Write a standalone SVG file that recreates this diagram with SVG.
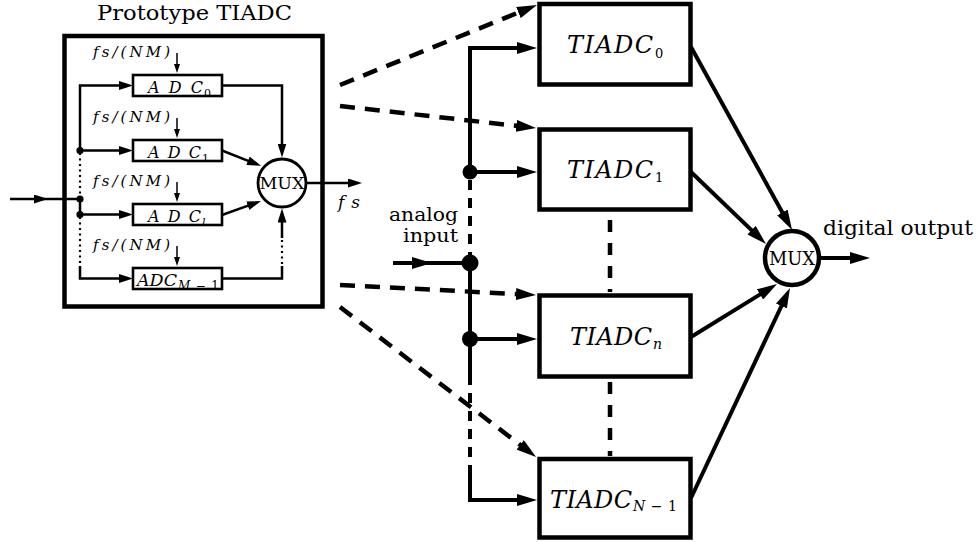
<svg xmlns="http://www.w3.org/2000/svg" width="979" height="542" viewBox="0 0 979 542">
  <style>
    text { font-family: "DejaVu Serif", "Liberation Serif", serif; fill: #000; }
    .it { font-style: italic; }
    .box { fill: #fff; stroke: #000; stroke-width: 4.5; }
    .sbox { fill: #fff; stroke: #000; stroke-width: 2.6; }
    .w { fill: none; stroke: #000; stroke-width: 2.5; }
    .clk { fill: none; stroke: #000; stroke-width: 1.5; }
    .dot1 { fill: none; stroke: #000; stroke-width: 2.2; stroke-dasharray: 2 3.5; }
    .W { fill: none; stroke: #000; stroke-width: 4; }
    .dash { fill: none; stroke: #000; stroke-width: 4.5; stroke-dasharray: 15 10; }
    .vdash { fill: none; stroke: #000; stroke-width: 4.5; stroke-dasharray: 12 11; }
    .bdash { fill: none; stroke: #000; stroke-width: 4; stroke-dasharray: 10 8; }
  </style>
  <defs>
    <marker id="ahS" markerUnits="userSpaceOnUse" markerWidth="14" markerHeight="9" refX="7" refY="4.5" orient="auto">
      <path d="M0,0 L14,4.5 L0,9 z" fill="#000"/>
    </marker>
    <marker id="ahC" markerUnits="userSpaceOnUse" markerWidth="9" markerHeight="6" refX="5" refY="3" orient="auto">
      <path d="M0,0 L9,3 L0,6 z" fill="#000"/>
    </marker>
    <marker id="ahL" markerUnits="userSpaceOnUse" markerWidth="20" markerHeight="12" refX="10" refY="6" orient="auto">
      <path d="M0,0 L20,6 L0,12 z" fill="#000"/>
    </marker>
  </defs>

  <!-- prototype time-interleaved converter -->
  <g id="prototype">
    <text x="97" y="20" font-size="21" textLength="195" lengthAdjust="spacingAndGlyphs">Prototype TIADC</text>
    <rect class="box" x="64.5" y="36" width="258" height="270.5"/>
  </g>

  <g id="adc0">
    <rect class="sbox" x="133" y="75" width="89" height="21"/>
    <text class="it" x="148" y="93" font-size="16" textLength="55" lengthAdjust="spacing">ADC</text>
    <text x="204" y="96.5" font-size="11">0</text>
    <text class="it" x="93" y="57" font-size="15" textLength="77" lengthAdjust="spacing">fs/(NM)</text>
  </g>
  <g id="adc1">
    <rect class="sbox" x="133" y="140" width="89" height="21"/>
    <text class="it" x="148" y="158" font-size="16" textLength="53" lengthAdjust="spacing">ADC</text>
    <text x="202" y="161.5" font-size="11">1</text>
    <text class="it" x="93" y="122" font-size="15" textLength="77" lengthAdjust="spacing">fs/(NM)</text>
  </g>
  <g id="adcl">
    <rect class="sbox" x="133" y="204" width="89" height="21"/>
    <text class="it" x="148" y="222" font-size="16" textLength="53" lengthAdjust="spacing">ADC</text>
    <text class="it" x="202" y="225.5" font-size="11">l</text>
    <text class="it" x="93" y="186" font-size="15" textLength="77" lengthAdjust="spacing">fs/(NM)</text>
  </g>
  <g id="adcM1">
    <rect class="sbox" x="133" y="268" width="89" height="21"/>
    <text class="it" x="137" y="286" font-size="16" textLength="40" lengthAdjust="spacingAndGlyphs">ADC</text>
    <text x="178" y="289.5" font-size="12" textLength="41" lengthAdjust="spacing"><tspan font-style="italic">M</tspan> − 1</text>
    <text class="it" x="93" y="250" font-size="15" textLength="77" lengthAdjust="spacing">fs/(NM)</text>
  </g>
  <g id="mux-inner">
    <circle cx="282" cy="183" r="24" fill="#fff" stroke="#000" stroke-width="2.8"/>
    <text x="282" y="189" font-size="17.5" text-anchor="middle" textLength="45" lengthAdjust="spacingAndGlyphs">MUX</text>
  </g>
  <text class="it" x="338" y="208" font-size="17" textLength="22" lengthAdjust="spacing">fs</text>

  <!-- interleaved converter bank -->
  <g id="tiadc0">
    <rect class="box" x="539.5" y="4" width="151" height="80.5"/>
    <text class="it" x="567" y="53" font-size="24" textLength="86" lengthAdjust="spacing">TIADC</text>
    <text x="655" y="57.5" font-size="13">0</text>
  </g>
  <g id="tiadc1">
    <rect class="box" x="539.5" y="129.5" width="151" height="80"/>
    <text class="it" x="567" y="178" font-size="24" textLength="86" lengthAdjust="spacing">TIADC</text>
    <text x="655" y="182" font-size="13">1</text>
  </g>
  <g id="tiadcn">
    <rect class="box" x="539.5" y="295.5" width="151" height="81"/>
    <text class="it" x="570" y="345" font-size="24" textLength="82" lengthAdjust="spacing">TIADC</text>
    <text class="it" x="653" y="348.5" font-size="14">n</text>
  </g>
  <g id="tiadcN1">
    <rect class="box" x="539.5" y="459" width="151" height="78.5"/>
    <text class="it" x="550" y="507.5" font-size="24" textLength="82" lengthAdjust="spacing">TIADC</text>
    <text x="633" y="510.5" font-size="14" textLength="44" lengthAdjust="spacing"><tspan font-style="italic">N</tspan> − 1</text>
  </g>
  <g id="mux">
    <circle cx="792" cy="258" r="27" fill="#fff" stroke="#000" stroke-width="4.5"/>
    <text x="792" y="265" font-size="18.5" text-anchor="middle" textLength="46" lengthAdjust="spacingAndGlyphs">MUX</text>
  </g>
  <g id="analog-input">
    <text x="458" y="221" font-size="19" text-anchor="end" textLength="69" lengthAdjust="spacingAndGlyphs">analog</text>
    <text x="458" y="242" font-size="19" text-anchor="end" textLength="55" lengthAdjust="spacingAndGlyphs">input</text>
  </g>
  <g id="digital-output">
    <text x="823" y="235" font-size="21" textLength="150" lengthAdjust="spacingAndGlyphs">digital output</text>
  </g>

  <g id="connectors">
    <!-- prototype: input and distribution bus -->
    <polyline class="w" points="10,199 41,199 80,199" marker-mid="url(#ahS)"/>
    <polyline class="w" points="80,150.5 80,85.5 126,85.5" marker-end="url(#ahS)"/>
    <line class="w" x1="80" y1="150.5" x2="126" y2="150.5" marker-end="url(#ahS)"/>
    <line class="w" x1="80" y1="199" x2="80" y2="214.5"/>
    <line class="w" x1="80" y1="214.5" x2="126" y2="214.5" marker-end="url(#ahS)"/>
    <polyline class="w" points="80,266 80,278.5 126,278.5" marker-end="url(#ahS)"/>
    <line class="dot1" x1="80" y1="153" x2="80" y2="197"/>
    <line class="dot1" x1="80" y1="217" x2="80" y2="266"/>
    <circle cx="80" cy="150.5" r="3.6"/>
    <circle cx="80" cy="199" r="3.6"/>
    <circle cx="80" cy="214.5" r="3.6"/>
    <!-- sampling clocks -->
    <line class="clk" x1="177" y1="53" x2="177" y2="69" marker-end="url(#ahC)"/>
    <line class="clk" x1="177" y1="118" x2="177" y2="134" marker-end="url(#ahC)"/>
    <line class="clk" x1="177" y1="182" x2="177" y2="198" marker-end="url(#ahC)"/>
    <line class="clk" x1="177" y1="246" x2="177" y2="262" marker-end="url(#ahC)"/>
    <!-- sub-converter outputs to the multiplexer -->
    <polyline class="w" points="222,85.5 282,85.5 282,150.5" marker-end="url(#ahS)"/>
    <line class="w" x1="222" y1="150.5" x2="254.5" y2="163.3" marker-end="url(#ahS)"/>
    <line class="w" x1="222" y1="215" x2="254.4" y2="203.4" marker-end="url(#ahS)"/>
    <polyline class="w" points="222,278.5 282,278.5 282,266"/>
    <line class="dot1" x1="282" y1="264" x2="282" y2="238"/>
    <line class="w" x1="282" y1="238" x2="282" y2="215.5" marker-end="url(#ahS)"/>
    <line class="w" x1="306" y1="183" x2="355" y2="183" marker-end="url(#ahS)"/>

    <!-- prototype replicated into the bank -->
    <line class="dash" x1="340" y1="85" x2="527.7" y2="8.8" marker-end="url(#ahL)"/>
    <line class="dash" x1="340" y1="106" x2="526.1" y2="126.9" marker-end="url(#ahL)"/>
    <line class="dash" x1="340" y1="285" x2="526" y2="294.5" marker-end="url(#ahL)"/>
    <line class="dash" x1="340" y1="307" x2="528.1" y2="450.9" marker-end="url(#ahL)"/>

    <!-- analog input bus -->
    <polyline class="W" points="393,263 422,263 470,263" marker-mid="url(#ahL)"/>
    <polyline class="W" points="470,172 470,48 527,48" marker-end="url(#ahL)"/>
    <line class="W" x1="470" y1="172" x2="527" y2="172" marker-end="url(#ahL)"/>
    <line class="bdash" x1="470" y1="180" x2="470" y2="258"/>
    <line class="W" x1="470" y1="263" x2="470" y2="385"/>
    <line class="W" x1="470" y1="339" x2="527" y2="339" marker-end="url(#ahL)"/>
    <line class="bdash" x1="470" y1="393" x2="470" y2="465"/>
    <polyline class="W" points="470,465 470,500 527,500" marker-end="url(#ahL)"/>
    <circle cx="470" cy="172" r="7.5"/>
    <circle cx="470" cy="263" r="8.5"/>
    <circle cx="470" cy="339" r="8"/>

    <!-- omitted channels -->
    <line class="vdash" x1="610" y1="220" x2="610" y2="292"/>
    <line class="vdash" x1="610" y1="382" x2="610" y2="456"/>

    <!-- bank outputs to the multiplexer -->
    <line class="W" x1="691" y1="47" x2="787.2" y2="221.2" marker-end="url(#ahL)"/>
    <line class="W" x1="691" y1="172" x2="758.8" y2="237.1" marker-end="url(#ahL)"/>
    <line class="W" x1="691" y1="337" x2="768.5" y2="289.2" marker-end="url(#ahL)"/>
    <line class="W" x1="691" y1="498" x2="785.7" y2="297" marker-end="url(#ahL)"/>
    <line class="W" x1="819" y1="258" x2="860" y2="258" marker-end="url(#ahL)"/>
  </g>
</svg>
